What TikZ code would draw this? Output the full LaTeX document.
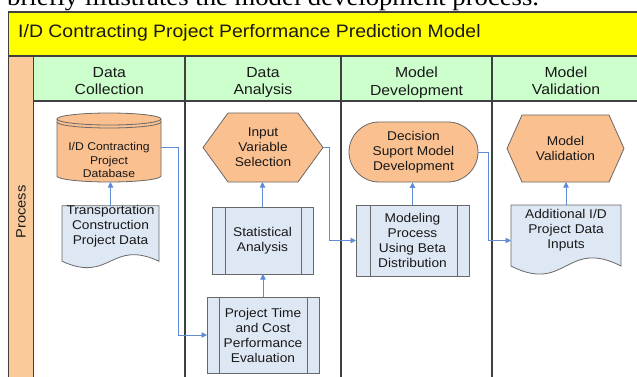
\documentclass[tikz,border=0pt]{standalone}
\usepackage{fontspec}
\setmainfont{Liberation Sans}[FakeStretch=1.08]
\newfontfamily\captionserif{Liberation Serif}[FakeStretch=1.08]
\usetikzlibrary{arrows.meta,calc}

\definecolor{framegray}{RGB}{64,64,64}
\definecolor{edgegray}{RGB}{105,105,105}
\definecolor{titleyellow}{RGB}{255,255,0}
\definecolor{laneorange}{RGB}{250,202,155}
\definecolor{headgreen}{RGB}{204,255,204}
\definecolor{termorange}{RGB}{250,192,144}
\definecolor{procblue}{RGB}{222,231,244}
\definecolor{linkblue}{RGB}{95,140,210}
\definecolor{inktext}{RGB}{25,25,25}

\newcommand\fntTitle{\fontsize{18}{21}\selectfont}
\newcommand\fntHead{\fontsize{14.6}{17.3}\selectfont}
\newcommand\fntBody{\fontsize{12.7}{15}\selectfont}
\newcommand\fntBase{\fontsize{11.3}{13.7}\selectfont}

\pgfdeclarelayer{pool}
\pgfdeclarelayer{shapes}
\pgfsetlayers{pool,shapes,main}

\tikzset{
  frame/.style={draw=framegray, line width=1.3pt},
  outline/.style={draw=edgegray, line width=0.8pt},
  txt/.style={align=center, text=inktext, inner sep=0pt},
  headtxt/.style={txt, font=\fntHead},
  bodytxt/.style={txt, font=\fntBody},
  holder/.style={inner sep=0pt, outer sep=0pt},
  procbox/.style={outline, fill=procblue, inner sep=0pt, outer sep=0pt, bodytxt},
  conn/.style={draw=linkblue, line width=0.9pt, -{Triangle[length=5.5pt,width=5.5pt]}},
}

\begin{document}
\begin{tikzpicture}[x=1pt,y=-1pt]
\useasboundingbox (0,0) rectangle (637,377);

% sentence of the running text above the chart
\node[anchor=base west, inner sep=0pt, text=black,
      font=\captionserif\fontsize{24.7}{30}\selectfont] (caption) at (7,5.5)
      {briefly illustrates the model development process.};

% ---------- swimlane pool ----------
\begin{pgfonlayer}{pool}
  \fill[white] (8.5,12) rectangle (650,390);
  \fill[titleyellow] (8.5,12) rectangle (650,56);
  \fill[laneorange] (8.5,56) rectangle (33.5,390);
  \fill[headgreen] (33.5,56) rectangle (650,101);
  \draw[frame] (650,12) -- (8.5,12) -- (8.5,390);
  \draw[frame] (8.5,56) -- (650,56);
  \draw[frame] (33.5,56) -- (33.5,390);
  \draw[frame] (33.5,101) -- (650,101);
  \foreach \x in {185,341,492} \draw[frame] (\x,56) -- (\x,390);
\end{pgfonlayer}

\node[anchor=base west, txt, font=\fntTitle] (title) at (18,38)
  {I/D Contracting Project Performance Prediction Model};

\node[headtxt] (colA) at (109.3,81.1) {Data\\Collection};
\node[headtxt] (colB) at (263,82.6) {Data\\Analysis};
\node[headtxt] (colC) at (416.5,82.6) {Model\\Development};
\node[headtxt] (colD) at (566,81.1) {Model\\Validation};

\node[txt, font=\fontsize{13.6}{16}\selectfont, rotate=90] (lane) at (21,212) {Process};

% ---------- Data Collection ----------
\node[holder, minimum width=104pt, minimum height=69pt] (db) at (109,147.5) {};
\node[txt, font=\fntBase] (dbtext) at (109,160) {I/D Contracting\\Project\\Database};

\node[holder, bodytxt, minimum width=97pt, minimum height=41.4pt] (doc1) at (110.5,226.7)
  {Transportation\\Construction\\Project Data};

% ---------- Data Analysis ----------
\node[holder, bodytxt, minimum width=120pt, minimum height=69pt] (hex1) at (263,147.5)
  {Input\\Variable\\Selection};
\node[procbox, minimum width=101pt, minimum height=67pt] (stat) at (262.5,240.5)
  {Statistical\\Analysis};
\node[procbox, minimum width=112pt, minimum height=76pt] (proj) at (263,335)
  {Project Time\\and Cost\\Performance\\Evaluation};

% ---------- Model Development ----------
\node[outline, fill=termorange, rounded corners=30pt, inner sep=0pt, bodytxt,
      minimum width=129pt, minimum height=60pt] (dec) at (413.5,152)
  {Decision\\Suport Model\\Development};
\node[procbox, minimum width=113pt, minimum height=71pt] (model) at (412.5,240.5)
  {Modeling\\Process\\Using Beta\\Distribution};

% ---------- Model Validation ----------
\node[holder, bodytxt, minimum width=117pt, minimum height=67pt] (hex2) at (565.5,148.5)
  {Model\\Validation};
\node[holder, bodytxt, minimum width=110pt, minimum height=50pt] (doc2) at (566,230)
  {Additional I/D\\Project Data\\Inputs};

% ---------- outlines drawn under the texts ----------
\begin{pgfonlayer}{shapes}
  % database cylinder
  \path[outline, fill=termorange]
    ([yshift=-6pt]db.north west) -- ([yshift=6pt]db.south west)
    arc[start angle=180, end angle=360, x radius=52pt, y radius=6pt]
    -- ([yshift=-6pt]db.north east)
    arc[start angle=0, end angle=180, x radius=52pt, y radius=6pt] -- cycle;
  \draw[outline] ([yshift=-6pt]db.north west)
    arc[start angle=180, end angle=360, x radius=52pt, y radius=6pt];
  \draw[outline] ([yshift=-9pt]db.north west)
    arc[start angle=180, end angle=360, x radius=52pt, y radius=6pt];

  % document shapes with wavy lower edge
  \path[outline, fill=procblue]
    (doc1.north west) -- (doc1.north east) -- ([yshift=-13.6pt]doc1.south east)
    .. controls ([xshift=48.5pt, yshift=9pt]doc1.south west)
           and ([xshift=48.5pt, yshift=-36pt]doc1.south west)
    .. ([yshift=-13.6pt]doc1.south west) -- cycle;
  \path[outline, fill=procblue]
    (doc2.north west) -- (doc2.north east) -- ([yshift=-11pt]doc2.south east)
    .. controls ([xshift=55pt, yshift=17pt]doc2.south west)
           and ([xshift=55pt, yshift=-39pt]doc2.south west)
    .. ([yshift=-11pt]doc2.south west) -- cycle;

  % preparation hexagons
  \path[outline, fill=termorange]
    (hex1.west) -- ([xshift=25pt]hex1.north west) -- ([xshift=-25pt]hex1.north east)
    -- (hex1.east) -- ([xshift=-25pt]hex1.south east) -- ([xshift=25pt]hex1.south west) -- cycle;
  \path[outline, fill=termorange]
    (hex2.west) -- ([xshift=15pt]hex2.north west) -- ([xshift=-15pt]hex2.north east)
    -- (hex2.east) -- ([xshift=-15pt]hex2.south east) -- ([xshift=15pt]hex2.south west) -- cycle;
\end{pgfonlayer}

% side bars of the predefined-process boxes
\foreach \b/\l/\r in {stat/13/12, proj/12/12, model/14/12} {
  \draw[outline] ([xshift=\l pt]\b.north west) -- ([xshift=\l pt]\b.south west);
  \draw[outline] ([xshift=-\r pt]\b.north east) -- ([xshift=-\r pt]\b.south east);
}

% ---------- connectors ----------
\draw[conn] (doc1.north) -- (doc1.north |- db.south);
\draw[conn] (db.east) -- ++(17,0) |- (proj.west);
\draw[conn] (proj.north) -- (proj.north |- stat.south);
\draw[conn] (stat.north) -- (stat.north |- hex1.south);
\draw[conn] (hex1.east) -- ++(6,0) |- (model.west);
\draw[conn] (model.north) -- (model.north |- dec.south);
\draw[conn] (dec.east) -- ++(10,0) |- (model.west -| doc2.west);
\draw[conn] (doc2.north) -- (doc2.north |- hex2.south);
\end{tikzpicture}
\end{document}
